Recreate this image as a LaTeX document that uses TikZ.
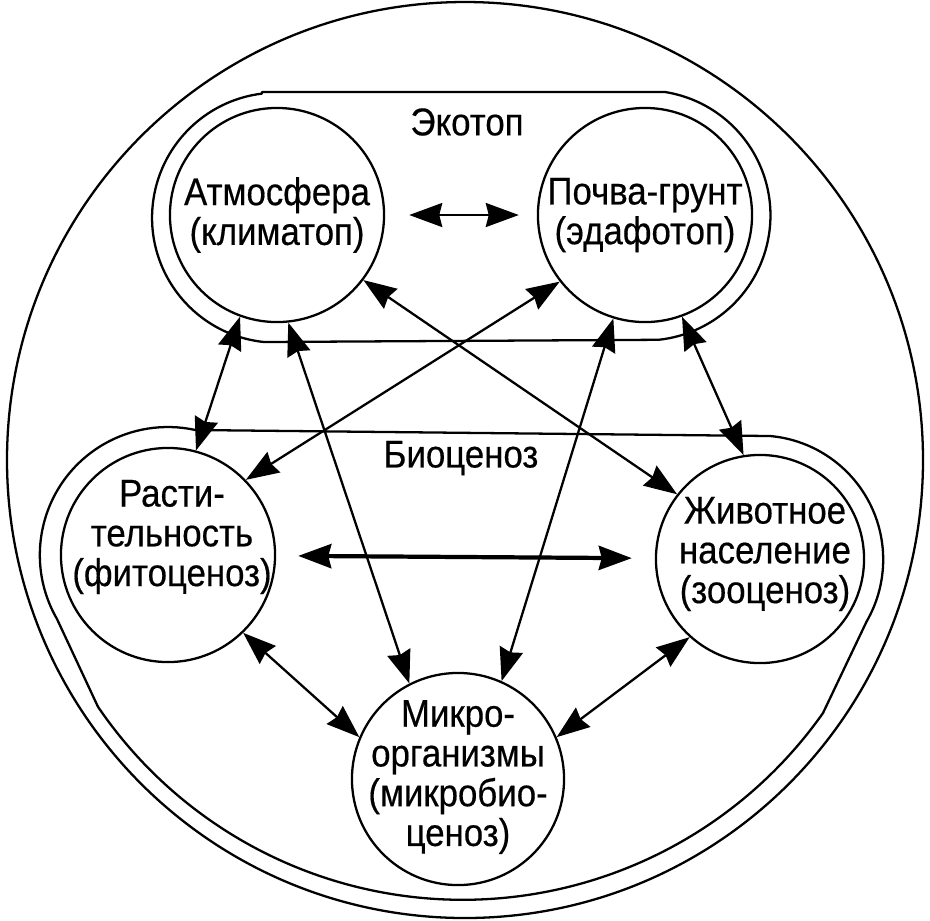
\documentclass[tikz,border=0pt]{standalone}
\usepackage{fontspec}
\setmainfont{Liberation Sans}[FakeStretch=0.9,FakeBold=0.4]
\usetikzlibrary{arrows.meta}
\begin{document}
\begin{tikzpicture}[x=0.01cm,y=-0.01cm,
  eco/.style={circle,draw,line width=0.65pt,inner sep=0pt},
  txt/.style={align=center,font=\fontsize{11}{11.3}\selectfont,inner sep=0pt},
  lbl/.style={font=\fontsize{11}{11.3}\selectfont,inner sep=0pt},
  link/.style={line width=0.65pt,>={Stealth[length=0.33cm,width=0.24cm,inset=0.03cm]},<->},
  bound/.style={line width=0.65pt,line join=round}
]
\useasboundingbox (0,0) rectangle (930,920);
% outer circle
\draw[bound] (465,460) circle[radius=458];
% Ekotop boundary
\draw[bound] (262,92) -- (665,92) arc[start angle=-81,end angle=84,radius=125]
  -- (264,342) arc[start angle=96,end angle=263,radius=125] -- cycle;
% Biocenosis boundary
\draw[bound] (195,430) -- (770,436) arc[start angle=-85,end angle=30,radius=124]
  -- (823,713) arc[start angle=35.2,end angle=145.8,radius=441]
  -- (57,619) arc[start angle=150,end angle=282,radius=128] -- cycle;
% circles
\node[eco,minimum size=2.14cm] (atm) at (277,215) {};
\node[eco,minimum size=2.14cm] (poc) at (645,215) {};
\node[eco,minimum size=2.14cm] (rast) at (168,555) {};
\node[eco,minimum size=2.08cm] (zhiv) at (760,559) {};
\node[eco,minimum size=2.12cm] (mik) at (458,779) {};
% texts
\node[txt] (atmT) at (277,215) {Атмосфера\\(климатоп)};
\node[txt] (pocT) at (645,215) {Почва-грунт\\(эдафотоп)};
\node[txt] (rastT) at (172,537) {Расти-\\тельность\\(фитоценоз)};
\node[txt] (zhivT) at (765,554) {Животное\\население\\(зооценоз)};
\node[txt] (mikT) at (458,777) {Микро-\\организмы\\(микробио-\\ценоз)};
\node[lbl] (eko) at (467,122) {Экотоп};
\node[lbl] (bio) at (461,458) {Биоценоз};
% connectors
\draw[link,shorten <=0.24cm,shorten >=0.18cm] (atm) -- (poc);
\draw[link] (atm.250) -- (rast.75);
\draw[link] (atm.276) -- (mik.117);
\draw[link] (atm.-37) -- (zhiv.142);
\draw[link] (poc.218) -- (rast.44);
\draw[link] (poc.253) -- (mik.66);
\draw[link] (poc.-70) -- (zhiv.99);
\draw[link,line width=1.2pt,shorten <=0.22cm,shorten >=0.23cm] (rast) -- (zhiv);
\draw[link] (rast.-46) -- (mik.157);
\draw[link] (zhiv.228) -- (mik.23);
\end{tikzpicture}
\end{document}
